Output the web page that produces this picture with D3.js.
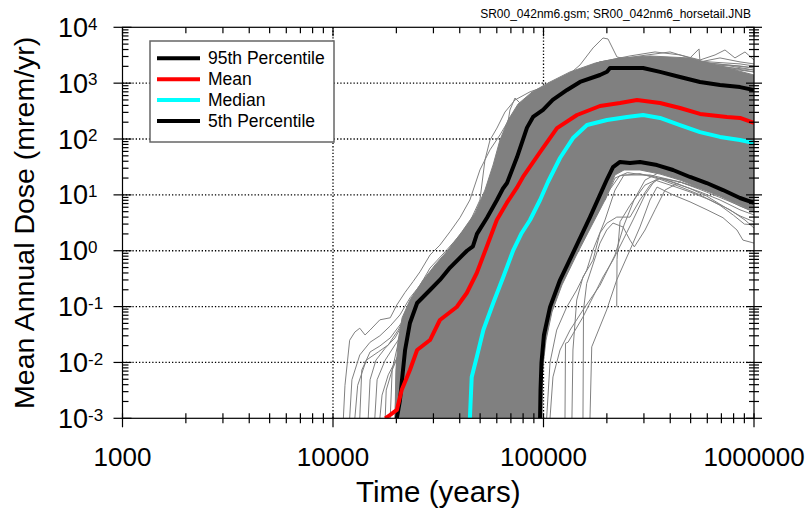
<!DOCTYPE html>
<html>
<head>
<meta charset="utf-8">
<script src="https://cdn.jsdelivr.net/npm/d3@7"></script>
<style>
  body { margin: 0; background: #fff; }
  text { font-family: "Liberation Sans", Arial, sans-serif; fill: #000; }
</style>
</head>
<body>
<div id="viz"></div>
<script>
// horsetail: dose vs time, log-log

//summary curves, [time (yr), dose (mrem/yr)]
const p95 = [[20100,0.001],[20800,0.0021],[21200,0.0043],[22000,0.0167],[23200,0.0508],[25100,0.116],[28900,0.198],[32200,0.3],[36000,0.5],[43300,1.0],[46200,1.2],[48300,2.0],[53900,3.9],[60100,8.1],[64200,13],[67100,16.3],[74800,47],[83500,160],[89200,248],[99500,331],[110600,500],[129400,755],[149100,1050],[185500,1400],[200300,1600],[207000,1870],[249300,1870],[297000,1870],[357700,1590],[445100,1290],[554100,1050],[689500,930],[858100,850],[1000000,755]];
const meanDose = [[17700,0.001],[18700,0.00115],[20100,0.00141],[21200,0.00321],[23200,0.00733],[25100,0.0167],[28900,0.0252],[32200,0.0575],[38700,0.0984],[43200,0.175],[48200,0.399],[53700,1.17],[60000,3.55],[66900,7.16],[74600,13.3],[79900,20.9],[96300,58.5],[115900,157],[144200,269],[185500,390],[230900,442],[278100,500],[357700,442],[445100,359],[554100,281],[744200,248],[858100,238],[1000000,194]];
const medianDose = [[44700,0.001],[45600,0.0055],[48200,0.0125],[51800,0.0381],[57700,0.116],[64400,0.339],[71900,1.03],[78800,2.08],[86300,3.55],[96300,8.09],[105000,17],[119800,45.7],[138100,104],[160900,178],[200300,219],[249300,248],[297000,269],[357700,238],[445100,178],[554100,133],[689500,109],[858100,95.9],[1000000,84.8]];
const p5 = [[96300,0.001],[96800,0.0032],[97800,0.0098],[100500,0.031],[107400,0.098],[119800,0.299],[139600,0.99],[166300,4.0],[185500,10],[200300,19],[213900,31.5],[230900,38.8],[257600,37.2],[287300,38.8],[346200,34.2],[412300,27.9],[496600,20.9],[596200,16.3],[712400,12.2],[858100,8.79],[1000000,7.16]];

//edges of the solid mass of realizations
const coreUpper = [[19700,0.001],[19900,0.0073],[20400,0.025],[21300,0.063],[23200,0.131],[26500,0.28],[30500,0.555],[35200,1.03],[41000,2.2],[47300,4.74],[52700,12.2],[57600,34.2],[62100,96],[67900,219],[75700,423],[88300,695],[107400,1050],[133700,1590],[176700,2300],[230900,2820],[320600,3065],[496600,2820],[689500,2030],[1000000,1400]];
const coreLower = [[98400,0.001],[98900,0.0073],[102800,0.025],[109700,0.08],[122400,0.244],[142700,0.805],[170000,2.89],[196000,8.1],[218600,22.7],[241300,27.9],[287300,27.9],[357700,23.6],[445100,18.4],[554100,13.3],[689500,9.55],[858100,6.6],[1000000,4.93]];

//single realizations that stand out from the mass
const upperTails = [
  [[11200,0.001],[11400,0.0039],[12000,0.025],[12700,0.035],[13400,0.041],[14200,0.031],[15000,0.038],[16700,0.058],[18700,0.063],[20100,0.107],[22000,0.18],[24000,0.28],[25900,0.42],[28900,0.84],[32200,1.26],[36000,2.2],[40100,3.9],[44700,8.1],[49900,28],[55700,64],[62100,118],[69300,238],[81700,500],[101600,820],[133700,1400],[185500,2030],[287300,2600],[496600,2400],[858100,2030],[1000000,1870]],
  [[12000,0.001],[12300,0.0049],[13400,0.0136],[15000,0.023],[16700,0.030],[18700,0.045],[20800,0.071],[23200,0.143],[25900,0.24],[28900,0.49],[34000,0.95],[40100,1.9],[44700,3.3],[49900,8.1],[52700,42],[55700,96],[60100,157],[65600,304],[73200,500],[86300,700],[107400,930],[149100,1720],[230900,2400],[445100,2600],[858100,2210],[1000000,2030]],
  [[13400,0.001],[13700,0.0073],[15000,0.0154],[16700,0.0197],[18700,0.0275],[20800,0.047],[23200,0.087],[25900,0.161],[30500,0.37],[36000,0.74],[42400,1.55],[48900,4.4],[55700,12.2],[62100,42],[65600,96],[69300,331],[73200,542],[79000,406],[91100,615],[119800,1050],[185500,1870],[357700,2400],[689500,2030],[1000000,1590]],
  [[15800,0.001],[16200,0.0049],[17700,0.011],[19700,0.0206],[22000,0.038],[24500,0.087],[27400,0.18],[32200,0.42],[38000,1.03],[44700,2.35],[52700,6.6],[60100,18.5],[65600,64],[73200,145],[81700,304],[96300,500],[126500,930],[185500,1590],[320600,2030],[618000,1720],[1000000,1350]],
  [[18700,0.001],[19100,0.0073],[20800,0.031],[23200,0.080],[27400,0.198],[32200,0.49],[39700,1.26],[45700,3.3],[53300,10],[60800,30],[69300,96],[81700,269],[101600,615],[126500,1240],[149100,2120],[171900,4270],[191700,6440],[202500,6180],[223400,2940],[257600,2600],[357700,2830],[554100,2400],[1000000,1870]],
  [[19700,0.001],[20100,0.011],[22000,0.047],[25900,0.131],[31200,0.325],[38000,0.84],[45700,2.55],[53900,8.1],[62100,25.7],[73200,96],[86300,304],[107400,755],[141100,1590],[185500,2400],[257600,3070],[338700,3620],[445100,3200],[554100,2600],[653000,3200],[728000,3930],[812000,2830],[906000,3620],[1000000,2600]],
  [[20100,0.001],[20800,0.0167],[23200,0.058],[27400,0.143],[34000,0.42],[41000,0.89],[48900,3.55],[57600,11.3],[67900,42],[79000,157],[96300,500],[119800,1050],[149100,1720],[185500,2400],[287300,3070],[399000,3620],[496600,2830],[548000,4100],[554100,2400],[689500,2830],[858100,2400],[1000000,2210]],
  [[12700,0.001],[13100,0.0039],[14400,0.011],[16400,0.0154],[18300,0.0206],[20400,0.038],[22700,0.080],[25400,0.131],[29500,0.28],[35200,0.63],[41500,1.43],[47800,3.3],[55700,8.8],[63600,22.7],[70900,64],[81700,202],[101600,543],[133700,1140],[207000,2030],[399000,2400],[769100,2030],[1000000,1720]],
  [[16700,0.001],[17100,0.0026],[18300,0.006],[19700,0.0102],[21500,0.0206],[23700,0.047],[27400,0.107],[32200,0.24],[39700,0.63],[46200,1.55],[54500,4.4],[62100,12.2],[70900,34],[81700,118],[96300,359],[119800,820],[166300,1590],[257600,2210],[496600,2210],[1000000,1590]],
  [[14700,0.001],[15000,0.0049],[16000,0.011],[17700,0.018],[19700,0.0275],[22000,0.058],[24500,0.107],[28300,0.198],[33000,0.42],[38800,0.95],[44700,2.2],[51000,5.36],[56900,15],[62100,42],[73200,178],[96300,614],[149100,1590],[320600,2600],[1000000,1720]],
  [[17700,0.001],[17900,0.0032],[19100,0.0073],[20800,0.0154],[22700,0.031],[25400,0.063],[28900,0.131],[34000,0.28],[40100,0.63],[47300,1.43],[54500,3.55],[60800,8.8],[67100,27.9],[75700,96],[91100,331],[119800,820],[185500,1590],[445100,2030],[1000000,1350]]
];
const lowerTails = [
  [[166300,0.001],[169500,0.019],[199600,0.087],[222800,0.30],[257600,1.03],[287300,2.66],[320600,8.1],[346200,13.8],[412300,10],[496600,7.5],[598000,5.4],[712400,3.9],[830000,2.35],[886000,1.55],[1000000,1.37]],
  [[126500,0.001],[127200,0.022],[130800,0.023],[154000,0.065],[171900,0.149],[191700,0.339],[213900,0.68],[238700,1.55],[266200,3.55],[303600,10],[338700,18.4],[399000,15],[496600,11.3],[618000,8.1],[769100,5.4],[906000,3.55],[1000000,2.55]],
  [[136500,0.001],[138000,0.0167],[143800,0.131],[154000,0.339],[171900,0.68],[185500,2.08],[199600,3.1],[222800,4.0],[257600,4.0],[287300,8.1],[320600,15],[357700,20],[445100,15],[554100,11.3],[689500,8.1],[858100,5.4],[1000000,4.37]],
  [[154000,0.001],[154900,0.087],[160400,0.26],[185500,1.37],[199600,2.35],[213900,3.13],[238700,2.66],[257600,1.55],[270100,1.17],[303600,2.35],[338700,5.4],[377900,12.2],[445100,17],[554100,13.3],[689500,9.55],[858100,6.3],[1000000,4.93]],
  [[107400,0.001],[110900,0.0055],[119800,0.0167],[133700,0.038],[154000,0.087],[185500,0.24],[218600,0.84],[241300,2.89],[269200,8.1],[303600,18.4],[357700,25.7],[496600,18.4],[689500,12.2],[1000000,6.6]],
  [[103500,0.001],[107400,0.01],[115500,0.038],[128900,0.098],[143800,0.198],[160400,0.45],[171900,1.03],[196000,3.55],[218600,12.2],[241300,22.7],[320600,22.7],[445100,17],[618000,11.3],[858100,7.2],[1000000,5.8]],
  [[222800,0.1],[223500,0.7],[230900,3.3],[257600,6.5],[303600,15],[357700,20],[445100,17],[554100,12.5],[689500,9],[1000000,5]],
  [[196000,8],[218600,20],[250000,25],[320600,22],[412300,17],[496600,13],[596200,9.5],[712400,6.3],[858100,4.2],[1000000,3.3]],
  [[205000,12],[230000,22],[287300,24],[357700,19],[445100,14],[554100,10],[689500,6.5],[800000,4.3],[900000,3.0],[1000000,2.9]]
];

//axis ticks and labels
const xDecades = [1000, 10000, 100000, 1000000];
const xTickLabels = ["1000", "10000", "100000", "1000000"];
const yDecades = [0.001, 0.01, 0.1, 1, 10, 100, 1000, 10000];
const yExponents = ["-3", "-2", "-1", "0", "1", "2", "3", "4"];

const legendNames = ["95th Percentile", "Mean", "Median", "5th Percentile"];
const legendColors = ["#000000", "#ff0000", "#00ffff", "#000000"];

//plot box
const plotLeft = 122.5, plotRight = 754, plotTop = 27.3, plotBottom = 418.3;

const svg = d3.select("#viz")
  .append("svg")
  .attr("width", 811)
  .attr("height", 511);

const x = d3.scaleLog().domain([1000, 1000000]).range([plotLeft, plotRight]);
const y = d3.scaleLog().domain([0.001, 10000]).range([plotBottom, plotTop]);

const line = d3.line().x(d => x(d[0])).y(d => y(d[1]));

svg.append("defs").append("clipPath").attr("id", "plotClip")
  .append("rect")
  .attr("x", plotLeft).attr("y", plotTop)
  .attr("width", plotRight - plotLeft).attr("height", plotBottom - plotTop);

//dotted grid at the decades
const grid = svg.append("g")
  .attr("stroke", "#000")
  .attr("stroke-width", 1.3)
  .attr("stroke-dasharray", "1.3,2");
grid.selectAll("line.gx")
  .data(xDecades.slice(1, -1))
  .enter().append("line").attr("class", "gx")
  .attr("x1", d => x(d)).attr("x2", d => x(d))
  .attr("y1", plotTop).attr("y2", plotBottom);
grid.selectAll("line.gy")
  .data(yDecades.slice(1, -1))
  .enter().append("line").attr("class", "gy")
  .attr("x1", plotLeft).attr("x2", plotRight)
  .attr("y1", d => y(d)).attr("y2", d => y(d));

const plot = svg.append("g").attr("clip-path", "url(#plotClip)");

//the dense gray mass
const corePoly = coreUpper.concat(coreLower.slice().reverse());
plot.append("path")
  .attr("d", line(corePoly) + "Z")
  .attr("fill", "#808080")
  .attr("stroke", "#808080")
  .attr("stroke-width", 1);

plot.selectAll("path.real")
  .data(upperTails.concat(lowerTails))
  .enter().append("path").attr("class", "real")
  .attr("d", line)
  .attr("fill", "none")
  .attr("stroke", "#808080")
  .attr("stroke-width", 1);

//summary curves
const statSeries = [p95, meanDose, medianDose, p5];
plot.selectAll("path.stat")
  .data(statSeries)
  .enter().append("path").attr("class", "stat")
  .attr("d", line)
  .attr("fill", "none")
  .attr("stroke", (d, i) => legendColors[i])
  .attr("stroke-width", 4)
  .attr("stroke-linejoin", "round");

//frame
svg.append("rect")
  .attr("x", plotLeft).attr("y", plotTop)
  .attr("width", plotRight - plotLeft).attr("height", plotBottom - plotTop)
  .attr("fill", "none").attr("stroke", "#000").attr("stroke-width", 1.2);

//ticks
function minorsOf(decades) {
  const out = [];
  decades.slice(0, -1).forEach(dec => { for (let k = 2; k <= 9; k++) out.push(k * dec); });
  return out;
}
const xMinor = minorsOf(xDecades);
const yMinor = minorsOf(yDecades);
const ticks = svg.append("g").attr("stroke", "#000").attr("stroke-width", 1.2);

function tickSet(vals, cls, f) {
  ticks.selectAll("line." + cls).data(vals).enter().append("line").attr("class", cls).each(f);
}
//bottom
tickSet(xDecades, "bM", function(d) { d3.select(this).attr("x1", x(d)).attr("x2", x(d)).attr("y1", plotBottom - 5).attr("y2", plotBottom + 9); });
tickSet(xMinor, "bm", function(d) { d3.select(this).attr("x1", x(d)).attr("x2", x(d)).attr("y1", plotBottom - 5).attr("y2", plotBottom + 5); });
//top
tickSet(xDecades, "tM", function(d) { d3.select(this).attr("x1", x(d)).attr("x2", x(d)).attr("y1", plotTop).attr("y2", plotTop + 9); });
tickSet(xMinor, "tm", function(d) { d3.select(this).attr("x1", x(d)).attr("x2", x(d)).attr("y1", plotTop).attr("y2", plotTop + 6); });
//left
tickSet(yDecades, "lM", function(d) { d3.select(this).attr("x1", plotLeft - 9).attr("x2", plotLeft + 9).attr("y1", y(d)).attr("y2", y(d)); });
tickSet(yMinor, "lm", function(d) { d3.select(this).attr("x1", plotLeft).attr("x2", plotLeft + 6).attr("y1", y(d)).attr("y2", y(d)); });
//right
tickSet(yDecades, "rM", function(d) { d3.select(this).attr("x1", plotRight - 8).attr("x2", plotRight + 8).attr("y1", y(d)).attr("y2", y(d)); });
tickSet(yMinor, "rm", function(d) { d3.select(this).attr("x1", plotRight - 5).attr("x2", plotRight + 5).attr("y1", y(d)).attr("y2", y(d)); });

//tick labels
svg.selectAll("text.xlab")
  .data(xDecades)
  .enter().append("text").attr("class", "xlab")
  .attr("x", d => x(d))
  .attr("y", 465.5)
  .attr("text-anchor", "middle")
  .attr("font-size", 26)
  .text((d, i) => xTickLabels[i]);

const ylab = svg.selectAll("text.ylab")
  .data(yDecades)
  .enter().append("text").attr("class", "ylab")
  .attr("x", 58)
  .attr("y", d => y(d) + 9.6)
  .attr("font-size", 27);
ylab.append("tspan").text("10");
ylab.append("tspan")
  .attr("font-size", 17)
  .attr("dy", -7.4)
  .text((d, i) => yExponents[i]);

//axis titles
svg.append("text")
  .attr("x", (plotLeft + plotRight) / 2)
  .attr("y", 502)
  .attr("text-anchor", "middle")
  .attr("font-size", 29.5)
  .text("Time (years)");

svg.append("text")
  .attr("transform", "translate(34," + (plotTop + plotBottom) / 2 + ") rotate(-90)")
  .attr("text-anchor", "middle")
  .attr("font-size", 28.5)
  .text("Mean Annual Dose (mrem/yr)");

//file tag at the top
svg.append("text")
  .attr("x", 751)
  .attr("y", 18.3)
  .attr("text-anchor", "end")
  .attr("font-size", 12)
  .text("SR00_042nm6.gsm; SR00_042nm6_horsetail.JNB");

//legend
const legend = svg.append("g");
legend.append("rect")
  .attr("x", 150).attr("y", 41)
  .attr("width", 184).attr("height", 101)
  .attr("fill", "#fff")
  .attr("stroke", "#666")
  .attr("stroke-width", 1.5);
const rows = legend.selectAll("g.row")
  .data(legendNames)
  .enter().append("g").attr("class", "row")
  .attr("transform", (d, i) => "translate(0," + (58.3 + i * 20.9) + ")");
rows.append("line")
  .attr("x1", 157).attr("x2", 200)
  .attr("stroke", (d, i) => legendColors[i])
  .attr("stroke-width", 4);
rows.append("text")
  .attr("x", 208)
  .attr("y", 5.6)
  .attr("font-size", 17.5)
  .text(d => d);
</script>
</body>
</html>
